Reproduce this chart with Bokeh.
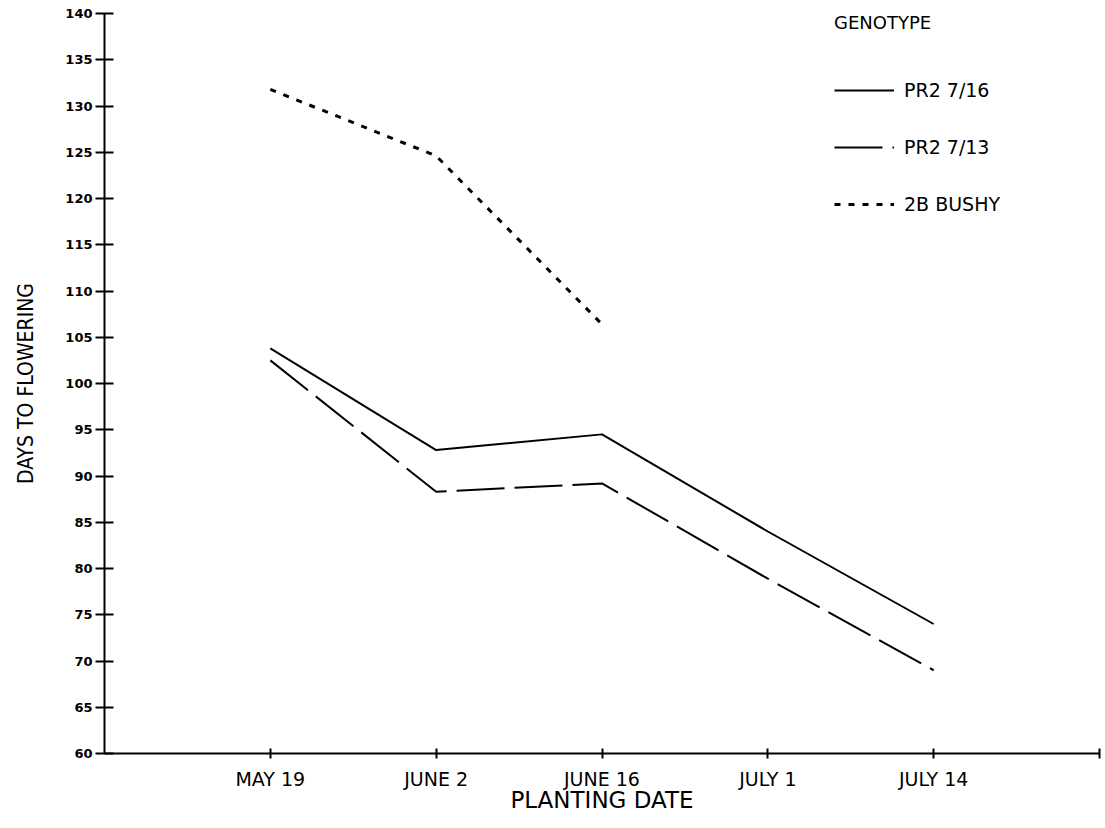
from bokeh.plotting import figure
from bokeh.models import Range1d, FixedTicker, Legend, LegendItem
from bokeh.embed import file_html
from bokeh.resources import INLINE

# ---- data ----
dates = ["MAY 19", "JUNE 2", "JUNE 16", "JULY 1", "JULY 14"]
date_pos = [1, 2, 3, 4, 5]
pr2_716 = [103.8, 92.8, 94.5, 84.0, 74.0]
pr2_713 = [102.5, 88.3, 89.2, 78.9, 69.0]
bushy_pos = [1, 2, 3]
bushy_2b = [131.8, 124.6, 106.4]
y_ticks = list(range(60, 145, 5))
series_names = ["PR2 7/16", "PR2 7/13", "2B BUSHY"]

p = figure(width=1105, height=828, output_backend="svg", toolbar_location=None,
           x_range=Range1d(0, 6), y_range=Range1d(60, 140),
           min_border_left=104, min_border_right=6, min_border_top=13,
           min_border_bottom=75, background_fill_color="white",
           border_fill_color="white")
p.outline_line_color = None
p.grid.visible = False

r1 = p.line(date_pos, pr2_716, line_color="black", line_width=2)
r2 = p.line(date_pos, pr2_713, line_color="black", line_width=2, line_dash="48 10")
r3 = p.line(bushy_pos, bushy_2b, line_color="black", line_width=3, line_dash="6 8")

# x axis
xa = p.xaxis[0]
xa.ticker = FixedTicker(ticks=date_pos + [6])
overrides = {i: d for i, d in zip(date_pos, dates)}
overrides[6] = ""
xa.major_label_overrides = overrides
xa.axis_line_width = 2
xa.axis_line_color = "black"
xa.major_tick_in = 5
xa.major_tick_out = 5
xa.major_tick_line_width = 2
xa.minor_tick_line_color = None
xa.major_label_text_font = "DejaVu Sans"
xa.major_label_text_font_size = "19px"
xa.major_label_text_color = "black"
xa.major_label_standoff = 9
xa.axis_label = "PLANTING DATE"
xa.axis_label_text_font = "DejaVu Sans"
xa.axis_label_text_font_size = "23px"
xa.axis_label_text_font_style = "normal"
xa.axis_label_text_color = "black"
xa.axis_label_standoff = -6

# y axis
ya = p.yaxis[0]
ya.ticker = FixedTicker(ticks=y_ticks)
ya.axis_line_width = 2
ya.axis_line_color = "black"
ya.major_tick_in = 9
ya.major_tick_out = 9
ya.major_tick_line_width = 2
ya.minor_tick_line_color = None
ya.major_label_text_font = "DejaVu Sans"
ya.major_label_text_font_style = "bold"
ya.major_label_text_font_size = "13px"
ya.major_label_text_color = "black"
ya.major_label_standoff = 3
ya.axis_label = "DAYS TO FLOWERING"
ya.axis_label_text_font = "Liberation Sans Narrow, DejaVu Sans Condensed"
ya.axis_label_text_font_size = "21px"
ya.axis_label_text_font_style = "normal"
ya.axis_label_text_color = "black"
ya.axis_label_standoff = 24

legend = Legend(
    items=[LegendItem(label=series_names[0], renderers=[r1]),
           LegendItem(label=series_names[1], renderers=[r2]),
           LegendItem(label=series_names[2], renderers=[r3])],
    title="GENOTYPE",
    location=(730, 538),
    orientation="vertical",
    glyph_width=60, glyph_height=22, label_height=22,
    label_standoff=10, spacing=35, padding=0, margin=0,
    border_line_alpha=0, background_fill_alpha=0,
    label_text_font="DejaVu Sans", label_text_font_size="19px",
    label_text_color="black",
    title_text_font="DejaVu Sans", title_text_font_size="18px",
    title_text_font_style="normal", title_text_color="black",
    title_standoff=46,
)
p.add_layout(legend)

open("out.html", "w").write(file_html(p, INLINE))
